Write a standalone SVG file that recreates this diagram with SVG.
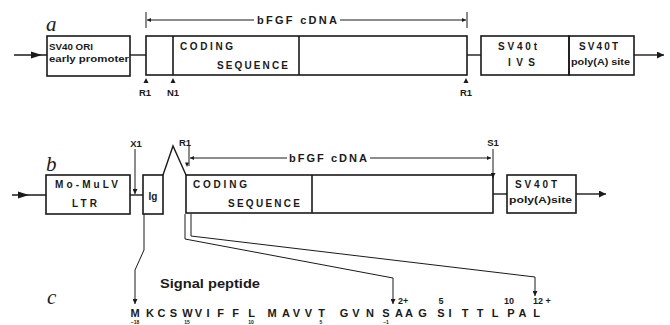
<svg xmlns="http://www.w3.org/2000/svg" width="670" height="325" viewBox="0 0 670 325">
<style>
.bx{fill:none;stroke:#1a1a1a;stroke-width:1.6}
.ln{fill:none;stroke:#1a1a1a;stroke-width:1.4}
.th{fill:none;stroke:#1a1a1a;stroke-width:1}
.hd{fill:#1a1a1a}
.t{font-family:"Liberation Sans",Arial,sans-serif;font-weight:bold;fill:#1a1a1a}
.s9{font-size:9.5px}
.s10{font-size:10px}
.lt{font-family:"Liberation Serif","Times New Roman",serif;font-style:italic;font-size:21px;fill:#1a1a1a}
.seq{font-family:"Liberation Sans",Arial,sans-serif;font-weight:bold;font-size:11px;fill:#1a1a1a}
.num{font-family:"Liberation Sans Narrow","Liberation Sans",Arial,sans-serif;font-weight:bold;font-size:9px;fill:#1a1a1a}
.sub{font-family:"Liberation Sans",Arial,sans-serif;font-weight:bold;font-size:5px;fill:#1a1a1a}
</style>
<defs>
<marker id="ah" viewBox="0 0 10 10" refX="10" refY="5" markerWidth="10" markerHeight="7" markerUnits="userSpaceOnUse" orient="auto-start-reverse"><path d="M0,0 L10,5 L0,10 z" fill="#1a1a1a"/></marker>
<marker id="sm" viewBox="0 0 10 10" refX="10" refY="5" markerWidth="7" markerHeight="4" markerUnits="userSpaceOnUse" orient="auto-start-reverse"><path d="M0,0 L10,5 L0,10 z" fill="#1a1a1a"/></marker>
<marker id="dn" viewBox="0 0 10 10" refX="10" refY="5" markerWidth="7" markerHeight="5" markerUnits="userSpaceOnUse" orient="auto"><path d="M0,0 L10,5 L0,10 z" fill="#1a1a1a"/></marker>
</defs>
<rect width="670" height="325" fill="#fff"/>

<!-- panel letters -->
<text class="lt" x="46" y="31">a</text>
<text class="lt" x="46" y="171">b</text>
<text class="lt" x="47" y="304">c</text>

<g id="connectors">
  <!-- panel a -->
  <line class="ln" x1="14" y1="55" x2="47" y2="55"/>
  <polygon class="hd" points="31,51.5 42,55 31,58.5"/>
  <line class="ln" x1="130" y1="55" x2="146" y2="55"/>
  <line class="ln" x1="467" y1="55" x2="481" y2="55"/>
  <line class="ln" x1="634" y1="55" x2="664" y2="55" marker-end="url(#ah)"/>
  <line class="th" x1="146" y1="12" x2="146" y2="28"/>
  <line class="th" x1="467" y1="12" x2="467" y2="28"/>
  <line class="th" x1="147" y1="20" x2="254" y2="20" marker-start="url(#sm)"/>
  <line class="th" x1="340" y1="20" x2="466" y2="20" marker-end="url(#sm)"/>
  <polygon class="hd" points="143.5,83 146,78 148.5,83"/>
  <polygon class="hd" points="170.5,83 173,78 175.5,83"/>
  <polygon class="hd" points="463.5,83 466,78 468.5,83"/>
  <!-- panel b -->
  <line class="ln" x1="12" y1="195" x2="46" y2="195"/>
  <polygon class="hd" points="18,191.5 29,195 18,198.5"/>
  <line class="ln" x1="130" y1="195" x2="143" y2="195"/>
  <polyline class="ln" points="163,175 173,146 186,175"/>
  <line class="ln" x1="493" y1="194" x2="507" y2="194"/>
  <line class="ln" x1="576" y1="194" x2="606" y2="194" marker-end="url(#ah)"/>
  <line class="th" x1="135" y1="149" x2="135" y2="194" marker-end="url(#dn)"/>
  <line class="th" x1="493" y1="149" x2="493" y2="178" marker-end="url(#dn)"/>
  <line class="th" x1="189" y1="146" x2="189" y2="166"/>
  <polygon class="hd" points="185,162.5 189,162.5 187,167"/>
  <line class="th" x1="190" y1="158" x2="287" y2="158" marker-start="url(#sm)"/>
  <line class="th" x1="370" y1="158" x2="491" y2="158" marker-end="url(#sm)"/>
  <!-- panel c leaders -->
  <polyline class="th" points="144,214 144,250 135,270 135,304" marker-end="url(#dn)"/>
  <polyline class="th" points="185,214 185,239 393,278 393,304" marker-end="url(#dn)"/>
  <polyline class="th" points="191,214 191,236 535,277 535,296" marker-end="url(#dn)"/>
</g>

<g id="sv40-ori">
  <rect class="bx" x="47" y="36" width="83" height="40"/>
  <text class="t s9" x="49" y="50" textLength="44" lengthAdjust="spacingAndGlyphs">SV40 ORI</text>
  <text class="t s9" x="49" y="62" textLength="80" lengthAdjust="spacingAndGlyphs">early promoter</text>
</g>
<g id="cdna-a">
  <rect class="bx" x="146" y="36" width="321" height="39"/>
  <line class="bx" x1="173" y1="36" x2="173" y2="75"/>
  <line class="bx" x1="299" y1="36" x2="299" y2="75"/>
  <text class="t s10" x="180" y="50" textLength="53" lengthAdjust="spacing">CODING</text>
  <text class="t s10" x="217" y="69" textLength="71" lengthAdjust="spacing">SEQUENCE</text>
</g>
<g id="label-bfgf-a"><text class="t" font-size="11px" x="257" y="24" textLength="80" lengthAdjust="spacing">bFGF cDNA</text></g>
<g id="sv40t-ivs">
  <rect class="bx" x="481" y="36" width="88" height="39"/>
  <text class="t s10" x="498" y="50" textLength="39" lengthAdjust="spacing">SV40t</text>
  <text class="t s10" x="508" y="66" textLength="27" lengthAdjust="spacing">IVS</text>
</g>
<g id="sv40T-polyA-a">
  <rect class="bx" x="569" y="36" width="65" height="39"/>
  <text class="t s10" x="579" y="50" textLength="39" lengthAdjust="spacing">SV40T</text>
  <text class="t s9" x="571" y="65" textLength="59" lengthAdjust="spacingAndGlyphs">poly(A) site</text>
</g>
<g id="sites-a">
  <text class="t s9" x="145" y="96" text-anchor="middle">R1</text>
  <text class="t s9" x="173" y="96" text-anchor="middle">N1</text>
  <text class="t s9" x="466" y="96" text-anchor="middle">R1</text>
</g>

<g id="mo-mulv-ltr">
  <rect class="bx" x="46" y="175" width="84" height="39"/>
  <text class="t s10" x="55" y="188" textLength="63" lengthAdjust="spacing">Mo-MuLV</text>
  <text class="t s10" x="72" y="207" textLength="25" lengthAdjust="spacing">LTR</text>
</g>
<g id="ig">
  <rect class="bx" x="143" y="175" width="20" height="39"/>
  <text class="t s10" x="153" y="200" text-anchor="middle">Ig</text>
</g>
<g id="cdna-b">
  <rect class="bx" x="186" y="175" width="307" height="38"/>
  <line class="bx" x1="312" y1="175" x2="312" y2="213"/>
  <text class="t s10" x="193" y="188" textLength="54" lengthAdjust="spacing">CODING</text>
  <text class="t s10" x="228" y="207" textLength="72" lengthAdjust="spacing">SEQUENCE</text>
</g>
<g id="label-bfgf-b"><text class="t" font-size="11px" x="289" y="162" textLength="78" lengthAdjust="spacing">bFGF cDNA</text></g>
<g id="sv40T-polyA-b">
  <rect class="bx" x="507" y="175" width="69" height="38"/>
  <text class="t s10" x="515" y="188" textLength="42" lengthAdjust="spacing">SV40T</text>
  <text class="t s9" x="509" y="203" textLength="63" lengthAdjust="spacingAndGlyphs">poly(A)site</text>
</g>
<g id="sites-b">
  <text class="t s9" x="136" y="147" text-anchor="middle">X1</text>
  <text class="t s9" x="185" y="146" text-anchor="middle">R1</text>
  <text class="t s9" x="493" y="146" text-anchor="middle">S1</text>
</g>

<g id="peptide">
  <text class="t" font-size="13px" x="160" y="288" textLength="100" lengthAdjust="spacingAndGlyphs">Signal peptide</text>
  <text class="seq" text-anchor="middle" y="316.5" x="135 150 161.5 173.5 187.5 198.5 208 220.5 235.5 251.5 272 286 296.5 308.5 321.5 344 356 370 386 399 409 422.5 441 450 465 480 495 511 522.5 536.5">MKCSWVIFFLMAVVTGVNSAAGSITTLPAL</text>
  <text class="num" x="398" y="304">2+</text>
  <text class="num" x="441" y="304" text-anchor="middle">5</text>
  <text class="num" x="509" y="304" text-anchor="middle">10</text>
  <text class="num" x="533" y="304">12 +</text>
  <text class="sub" x="135" y="324" text-anchor="middle">−18</text>
  <text class="sub" x="187" y="324" text-anchor="middle">15</text>
  <text class="sub" x="251" y="324" text-anchor="middle">10</text>
  <text class="sub" x="321" y="324" text-anchor="middle">5</text>
  <text class="sub" x="386" y="324" text-anchor="middle">−1</text>
</g>
</svg>
